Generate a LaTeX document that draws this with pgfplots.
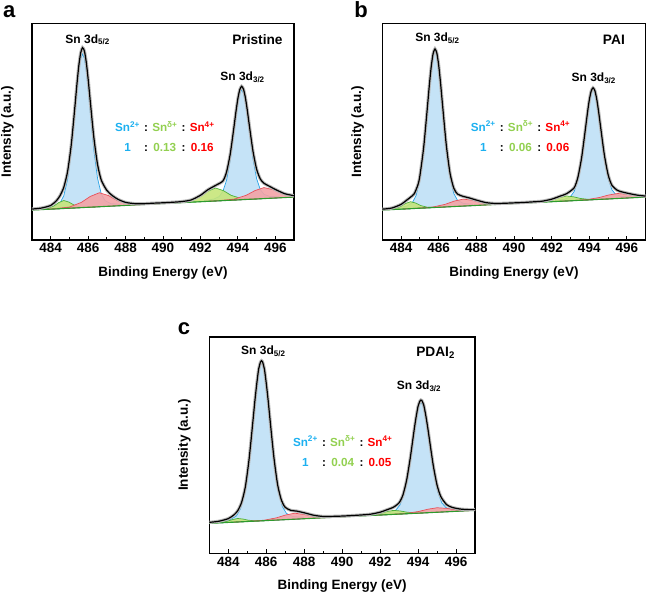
\documentclass[border=0pt]{standalone}
\usepackage{pgfplots}
\pgfplotsset{compat=1.18}
\usepackage{pgfplotstable}
\usepackage{fontspec}
\setmainfont{Liberation Sans}

\definecolor{bluefill}{HTML}{C5E3F7}
\definecolor{blueline}{HTML}{2AA3E6}
\definecolor{greenfill}{HTML}{C6E57A}
\definecolor{greenline}{HTML}{4CB03C}
\definecolor{redfill}{HTML}{F3A3A6}
\definecolor{redline}{HTML}{E8505A}
\definecolor{baseg}{HTML}{2E9B2E}
\definecolor{txtblue}{HTML}{1CB0F0}
\definecolor{txtgreen}{HTML}{92D050}
\definecolor{txtred}{HTML}{FF0000}

\pgfplotstableread{
x y
483.0 31.0
483.5 32.0
484.0 34.6
484.3 39.3
484.5 44.5
484.7 52.9
484.9 68.4
485.1 95.8
485.3 135.1
485.4 155.9
485.5 174.4
485.6 187.4
485.7 192.8
485.8 189.4
485.9 178.2
486.0 161.3
486.1 141.7
486.3 103.5
486.5 76.0
486.7 60.1
487.0 49.7
487.3 44.4
487.6 40.7
488.0 37.7
488.5 36.4
489.0 36.4
489.5 36.9
490.0 37.3
490.5 37.8
491.0 38.5
491.5 40.1
492.0 44.8
492.4 50.4
492.8 54.6
493.2 59.1
493.4 68.4
493.6 87.0
493.8 114.3
493.9 128.8
494.0 141.6
494.1 150.5
494.2 154.0
494.3 151.2
494.4 142.9
494.5 130.7
494.6 116.7
494.8 89.9
495.0 71.1
495.2 61.1
495.4 56.8
495.7 53.7
496.0 50.7
496.5 46.4
497.0 44.4
}\envA

\pgfplotstableread{
x y
483.0 30.9
483.5 32.0
484.0 35.7
484.3 40.0
484.5 42.9
484.7 46.4
484.9 55.6
485.0 64.5
485.2 92.9
485.4 133.7
485.5 155.0
485.6 173.7
485.7 186.7
485.8 191.5
485.9 187.2
486.0 174.7
486.1 156.5
486.2 135.6
486.4 95.4
486.6 66.9
486.8 51.9
487.0 46.0
487.3 43.7
487.6 42.3
488.0 40.0
488.5 37.5
489.0 36.6
489.5 36.8
490.0 37.2
490.5 37.6
491.0 38.2
491.5 38.9
492.0 40.9
492.4 43.6
492.8 46.5
493.2 52.4
493.4 63.1
493.6 83.2
493.8 111.9
493.9 126.8
494.0 140.0
494.1 149.1
494.2 152.5
494.3 149.6
494.4 140.9
494.5 128.2
494.6 113.7
494.8 85.6
495.0 65.7
495.2 55.0
495.5 49.7
495.8 47.9
496.2 46.2
496.6 44.8
497.0 44.0
}\envB

\pgfplotstableread{
x y
483.0 31.0
483.5 32.1
484.0 34.75
484.3 38.5
484.5 42.75
484.7 50.9
484.9 66.6
485.1 94.9
485.3 132.7
485.4 152.4
485.5 169.8
485.6 184.6
485.7 191.9
485.75 193.0
485.8 192.1
485.9 185.05
486.0 170.6
486.1 153.4
486.2 134.0
486.4 96.65
486.6 68.7
486.8 53.2
487.0 46.05
487.3 43.0
487.6 42.3
488.0 40.6
488.5 38.15
489.0 36.9
489.5 37.0
490.0 37.3
490.5 37.8
491.0 38.4
491.5 39.2
492.0 41.2
492.4 43.9
492.7 46.15
493.0 50.6
493.2 58.3
493.4 73.5
493.6 96.9
493.8 124.5
493.9 136.8
494.0 147.3
494.1 152.7
494.15 153.6
494.2 153.1
494.3 148.5
494.4 138.8
494.5 127.15
494.6 114.0
494.8 88.1
495.0 68.4
495.2 56.8
495.5 48.8
495.8 46.0
496.2 44.4
496.6 43.8
497.0 43.8
}\envC

\pgfplotsset{
  xpsaxis/.style={
    scale only axis, height=216.5pt,
    xmin=483, xmax=497, ymin=0, ymax=217,
    xtick={484,486,...,496}, minor xtick={485,487,...,495},
    ytick=\empty, xtick pos=bottom,
    axis line style={line width=1.5pt},
    every tick/.style={black, line width=0.9pt},
    major tick length=4pt, minor tick length=2.5pt,
    tick align=inside,
    /pgf/number format/assume math mode=true,
    /pgf/number format/1000 sep={},
    ticklabel style={font=\fontsize{13.5}{15}\selectfont\bfseries},
    label style={font=\fontsize{13.5}{15}\selectfont\bfseries},
    xlabel={Binding Energy (eV)},
    ylabel={Intensity (a.u.)},
    x label style={at={(axis description cs:0.5,-0.153)}, anchor=center},
    y label style={at={(axis description cs:-0.094,0.5)}, anchor=center},
  },
  bluec/.style={draw=blueline, fill=bluefill, line width=0.7pt},
  greenc/.style={draw=greenline, fill=greenfill, fill opacity=0.9, draw opacity=1, line width=0.7pt},
  redc/.style={draw=redline, fill=redfill, fill opacity=0.9, draw opacity=1, line width=0.7pt},
  basec/.style={draw=baseg, line width=1.1pt},
  halo/.style={gray!55, line width=3.2pt, smooth, tension=0.4},
  envl/.style={black, line width=1.2pt, smooth, tension=0.4},
}

\newcommand{\ratiotab}[2]{%
\fontsize{11.7}{14}\selectfont\bfseries
\setlength{\tabcolsep}{2.1pt}%
\begin{tabular}[t]{ccccc}
\textcolor{txtblue}{Sn\textsuperscript{2+}} & : & \textcolor{txtgreen}{Sn\textsuperscript{δ+}} & : & \textcolor{txtred}{Sn\textsuperscript{4+}}\\[6pt]
\textcolor{txtblue}{1} & : & \textcolor{txtgreen}{#1} & : & \textcolor{txtred}{#2}
\end{tabular}}

\tikzset{
  peaklab/.style={anchor=base, inner sep=0pt, font=\fontsize{12}{14}\selectfont\bfseries},
  namelab/.style={anchor=base east, inner sep=0pt, font=\fontsize{13.7}{15}\selectfont\bfseries},
  panlab/.style={inner sep=0pt, font=\fontsize{22}{24}\selectfont\bfseries},
}

\begin{document}
\begin{tikzpicture}
\useasboundingbox (0,0) rectangle (649pt,593pt);

% ---------------- panel a ----------------
\begin{axis}[xpsaxis, width=262pt, at={(32pt,353pt)}, anchor=south west]
\addplot[bluec] coordinates {(483.7,32.0)(484.2,33.7)(484.5,37.2)(484.7,44.4)(484.9,60.6)(485.1,89.7)(485.3,130.2)(485.4,151.1)(485.5,169.4)(485.6,181.9)(485.7,186.5)(485.8,182.1)(485.9,169.8)(486.0,151.7)(486.1,131.0)(486.3,90.8)(486.5,62.1)(486.7,46.2)(486.9,39.5)(487.2,36.5)(487.7,35.8)(487.7,34.36)(483.7,30.65)};
\addplot[bluec] coordinates {(492.2,39.53)(492.7,40.88)(493.0,43.47)(493.2,48.60)(493.4,60.23)(493.6,81.09)(493.8,110.1)(493.9,125.0)(494.0,138.1)(494.1,147.1)(494.2,150.4)(494.3,147.3)(494.4,138.5)(494.5,125.6)(494.6,110.8)(494.8,82.2)(495.0,61.7)(495.2,50.5)(495.4,45.7)(495.7,43.7)(496.2,43.3)(496.2,42.26)(492.2,38.54)};
\addplot[greenc] coordinates {(482.9,29.98)(483.35,30.47)(483.8,31.40)(484.16,34.08)(484.43,37.51)(484.7,39.58)(484.97,38.01)(485.24,35.08)(485.6,33.07)(486.05,32.97)(486.5,33.34)(486.5,33.27)(482.9,29.91)};
\addplot[greenc] coordinates {(490.0,36.62)(490.7,37.37)(491.4,38.88)(491.96,43.20)(492.38,48.75)(492.8,52.10)(493.22,49.53)(493.64,44.76)(494.2,41.48)(494.9,41.27)(495.6,41.82)(495.6,41.70)(490.0,36.5)};
\addplot[redc] coordinates {(483.4,30.50)(484.2,31.35)(485.0,33.02)(485.64,37.70)(486.12,43.70)(486.6,47.34)(487.08,44.59)(487.56,39.48)(488.2,35.99)(489.0,35.81)(489.8,36.44)(489.8,36.31)(483.4,30.37)};
\addplot[redc] coordinates {(492.2,38.64)(493.0,39.48)(493.8,40.94)(494.44,44.75)(494.92,49.56)(495.4,52.51)(495.88,50.45)(496.36,46.53)(497.0,43.91)(497.8,43.93)(498.6,44.59)(498.6,44.49)(492.2,38.54)};
\addplot[basec] coordinates {(483,30)(497,43)};
\addplot[halo] table {\envA};
\addplot[envl] table {\envA};
\node[peaklab] at (axis cs:485.97,197.3) {Sn 3d\textsubscript{5/2}};
\node[peaklab] at (axis cs:494.25,160) {Sn 3d\textsubscript{3/2}};
\node[namelab] at (axis cs:496.4,196) {Pristine};
\node[anchor=base, inner sep=0pt] at (axis cs:490.1,108.3) {\ratiotab{0.13}{0.16}};
\end{axis}

% ---------------- panel b ----------------
\begin{axis}[xpsaxis, width=263.4pt, at={(382.3pt,353pt)}, anchor=south west]
\addplot[bluec] coordinates {(483.8,32.16)(484.3,33.90)(484.6,37.49)(484.8,44.77)(485.0,61.36)(485.2,91.29)(485.4,132.83)(485.5,154.32)(485.6,173.01)(485.7,185.91)(485.8,190.60)(485.9,186.09)(486.0,173.39)(486.1,154.88)(486.2,133.57)(486.4,92.41)(486.6,62.84)(486.8,46.63)(487.0,39.71)(487.3,36.68)(487.8,35.88)(487.8,34.46)(483.8,30.74)};
\addplot[bluec] coordinates {(492.2,39.54)(492.7,40.90)(493.0,43.51)(493.2,48.68)(493.4,60.42)(493.6,81.47)(493.8,110.74)(493.9,125.81)(494.0,139.00)(494.1,148.09)(494.2,151.40)(494.3,148.27)(494.4,139.38)(494.5,126.37)(494.6,111.48)(494.8,82.59)(495.0,61.90)(495.2,50.54)(495.4,45.73)(495.7,43.68)(496.2,43.26)(496.2,42.26)(492.2,38.54)};
\addplot[greenc] coordinates {(482.7,29.78)(483.15,30.26)(483.6,31.14)(483.96,33.52)(484.23,36.54)(484.5,38.39)(484.77,37.04)(485.04,34.52)(485.4,32.81)(485.85,32.77)(486.3,33.12)(486.3,33.06)(482.7,29.72)};
\addplot[greenc] coordinates {(490.4,36.92)(491.0,37.52)(491.6,38.41)(492.08,40.31)(492.44,42.63)(492.8,44.10)(493.16,43.29)(493.52,41.65)(494.0,40.63)(494.6,40.86)(495.2,41.38)(495.2,41.33)(490.4,36.87)};
\addplot[redc] coordinates {(484.1,31.08)(484.9,31.88)(485.7,33.09)(486.34,35.73)(486.82,38.95)(487.3,40.99)(487.78,39.84)(488.26,37.51)(488.9,36.06)(489.7,36.34)(490.5,37.02)(490.5,36.96)(484.1,31.02)};
\addplot[redc] coordinates {(492.3,38.69)(493.1,39.47)(493.9,40.54)(494.54,42.60)(495.02,45.02)(495.5,46.61)(495.98,45.91)(496.46,44.38)(497.1,43.51)(497.9,43.93)(498.7,44.63)(498.7,44.58)(492.3,38.64)};
\addplot[basec] coordinates {(483,30)(497,43)};
\addplot[halo] table {\envB};
\addplot[envl] table {\envB};
\node[peaklab] at (axis cs:485.93,199) {Sn 3d\textsubscript{5/2}};
\node[peaklab] at (axis cs:494.24,159) {Sn 3d\textsubscript{3/2}};
\node[namelab] at (axis cs:495.9,195.7) {PAI};
\node[anchor=base, inner sep=0pt] at (axis cs:490.35,109) {\ratiotab{0.06}{0.06}};
\end{axis}

% ---------------- panel c ----------------
\begin{axis}[xpsaxis, width=265.7pt, at={(209.3pt,39.7pt)}, anchor=south west]
\addplot[bluec] coordinates {(483.55,31.95)(484.1,33.74)(484.43,37.41)(484.65,44.81)(484.87,61.66)(485.09,91.94)(485.31,134.05)(485.42,155.75)(485.53,174.75)(485.64,187.85)(485.75,192.55)(485.86,188.06)(485.97,175.16)(486.08,156.36)(486.19,134.86)(486.41,93.17)(486.63,63.29)(486.85,46.85)(487.07,39.86)(487.4,36.80)(487.95,36.04)(487.95,34.60)(483.55,30.51)};
\addplot[bluec] coordinates {(491.95,39.31)(492.5,40.71)(492.83,43.35)(493.05,48.54)(493.27,60.30)(493.49,81.37)(493.71,110.65)(493.82,125.74)(493.93,138.94)(494.04,148.03)(494.15,151.35)(494.26,148.24)(494.37,139.35)(494.48,126.35)(494.59,111.47)(494.81,82.60)(495.03,61.93)(495.25,50.58)(495.47,45.80)(495.8,43.78)(496.35,43.40)(496.35,42.40)(491.95,38.31)};
\addplot[greenc] coordinates {(482.7,29.75)(483.15,30.20)(483.6,30.85)(483.96,32.20)(484.23,33.84)(484.5,34.89)(484.77,34.34)(485.04,33.20)(485.4,32.52)(485.85,32.71)(486.3,33.09)(486.3,33.06)(482.7,29.72)};
\addplot[greenc] coordinates {(490.3,36.82)(490.9,37.41)(491.5,38.22)(491.98,39.84)(492.34,41.76)(492.7,43.01)(493.06,42.43)(493.42,41.18)(493.9,40.45)(494.5,40.75)(495.1,41.28)(495.1,41.24)(490.3,36.78)};
\addplot[redc] coordinates {(484.3,31.26)(485.1,32.05)(485.9,33.19)(486.54,35.54)(487.02,38.36)(487.5,40.18)(487.98,38.98)(488.46,37.32)(489.1,36.16)(489.9,36.51)(490.7,37.20)(490.7,37.15)(484.3,31.21)};
\addplot[redc] coordinates {(491.8,38.21)(492.6,38.99)(493.4,40.03)(494.04,41.94)(494.52,44.17)(495.0,45.64)(495.48,45.06)(495.96,43.72)(496.6,43.00)(497.4,43.45)(498.2,44.15)(498.2,44.11)(491.8,38.17)};
\addplot[basec] coordinates {(483,30)(497,43)};
\addplot[halo] table {\envC};
\addplot[envl] table {\envC};
\node[peaklab] at (axis cs:485.85,199.3) {Sn 3d\textsubscript{5/2}};
\node[peaklab] at (axis cs:494.05,164) {Sn 3d\textsubscript{3/2}};
\node[namelab] at (axis cs:495.95,197.3) {PDAI\textsubscript{2}};
\node[anchor=base, inner sep=0pt] at (axis cs:490.03,107.3) {\ratiotab{0.04}{0.05}};
\end{axis}

\node[panlab] at (9.2pt,581.5pt) {a};
\node[panlab] at (361pt,583pt) {b};
\node[panlab] at (184pt,264.7pt) {c};
\end{tikzpicture}
\end{document}
